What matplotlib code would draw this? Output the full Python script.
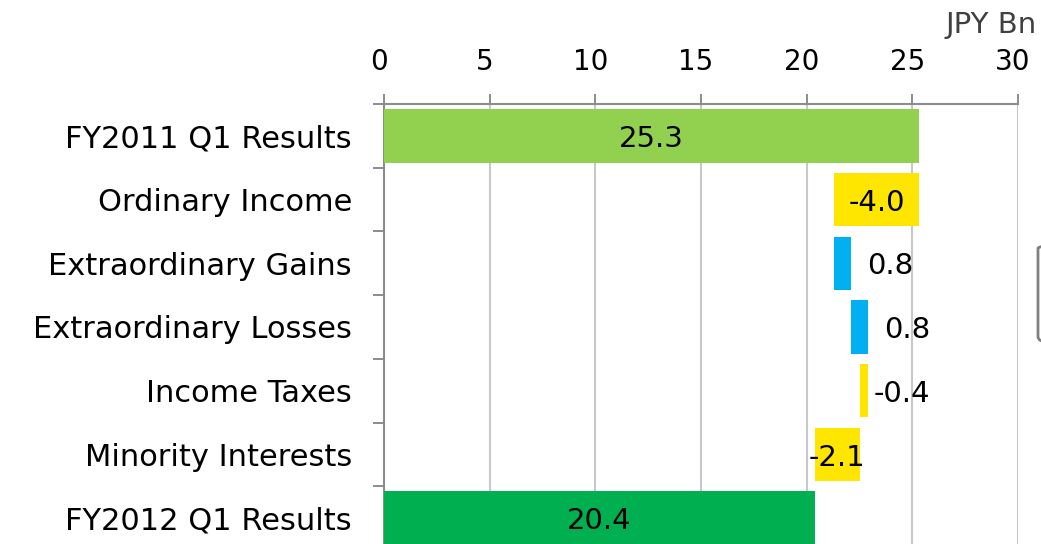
import numpy as np
import matplotlib
matplotlib.use("Agg")
import matplotlib.pyplot as plt
import matplotlib.transforms as mtransforms
from matplotlib.patches import FancyBboxPatch

#%% data
categories = ["FY2011 Q1 Results", "Ordinary Income", "Extraordinary Gains",
              "Extraordinary Losses", "Income Taxes", "Minority Interests",
              "FY2012 Q1 Results"]
values = [25.3, -4.0, 0.8, 0.8, -0.4, -2.1, 20.4]
is_total = [True, False, False, False, False, False, True]
colors = ["#92D050", "#FFE600", "#00B0F0", "#00B0F0", "#FFE600", "#FFE600", "#00B050"]
xticks = [0, 5, 10, 15, 20, 25, 30]
unit_label = "JPY Bn"

#%% waterfall positions
lefts = []
widths = []
running = 0.0
for v, tot in zip(values, is_total):
    if tot:
        lefts.append(0.0)
        widths.append(v)
        running = v
    else:
        new = running + v
        lefts.append(min(running, new))
        widths.append(abs(v))
        running = new
lefts = np.array(lefts)
widths = np.array(widths)

#%% plot
plt.rcParams['font.family'] = ['DejaVu Sans']
fs = 21
axis_gray = '#8C8C8C'

fig = plt.figure(figsize=(10.41, 5.44), dpi=100)
ax = fig.add_axes([384/1041, 1 - 550/544, (1018-384)/1041, (550-104)/544])

ypos = np.arange(len(categories))
ax.barh(ypos, widths, left=lefts, height=0.84, color=colors, zorder=3)

ax.set_xlim(0, 30)
ax.set_ylim(len(categories) - 0.5, -0.5)

# value labels (big bars inside, small ones to the right)
for i, (l, w, v) in enumerate(zip(lefts, widths, values)):
    txt = f"{v:.1f}"
    if w >= 2.0:
        ax.text(l + w / 2, i + 0.05, txt, ha='center', va='center', fontsize=fs, zorder=4)
    else:
        off = 0.75 if v > 0 else 0.25
        ax.text(l + w + off, i + 0.05, txt, ha='left', va='center', fontsize=fs, zorder=4)

# x axis on top
ax.xaxis.tick_top()
ax.set_xticks(xticks)
ax.set_xticklabels([str(t) for t in xticks], fontsize=20)
ax.tick_params(axis='x', direction='out', length=7.5, width=1.4, color=axis_gray, pad=13)
shift = mtransforms.ScaledTranslation(-5/100, 0, fig.dpi_scale_trans)
for lab in ax.get_xticklabels():
    lab.set_transform(lab.get_transform() + shift)
ax.grid(axis='x', color='#C8C8C8', linewidth=1.5, zorder=0)

# y axis ticks at category boundaries
ax.set_yticks(ypos)
ax.set_yticklabels(categories, fontsize=22)
ax.set_yticks(np.arange(-0.5, len(categories), 1.0), minor=True)
ax.tick_params(axis='y', which='major', length=0, pad=23)
ax.tick_params(axis='y', which='minor', length=8, width=1.4, color=axis_gray, direction='out')

for s in ['right', 'bottom']:
    ax.spines[s].set_visible(False)
for s in ['top', 'left']:
    ax.spines[s].set_color(axis_gray)
    ax.spines[s].set_linewidth(1.5)

fig.text(1037/1041, 1 - 33/544, unit_label, ha='right', va='baseline', fontsize=21, color='#404040')

# edge of a box cut off at the right
box = FancyBboxPatch((1038/1041, 1 - 342/544), 0.1, 99/544, boxstyle="round,pad=0,rounding_size=0.01",
                     transform=fig.transFigure, facecolor='none', edgecolor='#808080', linewidth=2,
                     clip_on=False)
fig.patches.append(box)

fig.savefig("out.png", dpi=100)
